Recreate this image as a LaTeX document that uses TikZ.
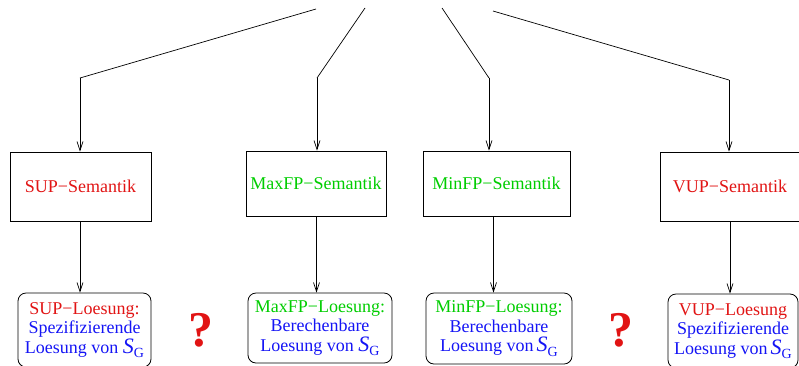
\documentclass[tikz,border=0pt]{standalone}
\usepackage{fontspec}
\setmainfont{Liberation Serif}
\usetikzlibrary{arrows.meta}
\definecolor{cred}{RGB}{225,20,20}
\definecolor{cgreen}{RGB}{0,205,0}
\definecolor{cblue}{RGB}{20,20,245}
\newcommand{\SG}{{\fontsize{22}{22}\selectfont\itshape S}\raisebox{-0.55ex}{\fontsize{14}{14}\selectfont G}}
\begin{document}
\begin{tikzpicture}[x=1pt,y=-1pt,
  semb/.style={draw,line width=0.8pt,inner sep=0pt,font=\fontsize{18}{20}\selectfont},
  solb/.style={draw,line width=0.8pt,rounded corners=8pt,inner sep=0pt,align=center,font=\fontsize{18}{19.5}\selectfont},
  arr/.style={line width=0.7pt,-{Straight Barb[length=9pt,width=6pt,line width=0.7pt]}},
  ln/.style={line width=0.7pt},
  qm/.style={text=cred,font=\fontsize{50}{50}\selectfont\bfseries,inner sep=0pt}]
\useasboundingbox (0,0) rectangle (799,365);
\clip (0,0) rectangle (799,365);
% semantics boxes
\node[semb,minimum width=141pt,minimum height=69pt,text=cred] (s1) at (80.5,186.5) {SUP−Semantik};
\node[semb,minimum width=140pt,minimum height=65pt,text=cgreen] (s2) at (316,183.5) {MaxFP−Semantik};
\node[semb,minimum width=147pt,minimum height=65pt,text=cgreen] (s3) at (496.5,183.5) {MinFP−Semantik};
\node[semb,minimum width=140pt,minimum height=69pt,text=cred] (s4) at (730,186.5) {VUP−Semantik};
% solution boxes
\node[solb,minimum width=133pt,minimum height=74pt] (l1) at (84.5,330)
  {\textcolor{cred}{SUP−Loesung:}\\\textcolor{cblue}{Spezifizierende}\\\textcolor{cblue}{Loesung von \SG}};
\node[solb,minimum width=144pt,minimum height=70pt] (l2) at (320,328)
  {\textcolor{cgreen}{MaxFP−Loesung:}\\\textcolor{cblue}{Berechenbare}\\\textcolor{cblue}{Loesung von \SG}};
\node[solb,minimum width=146pt,minimum height=71pt] (l3) at (499,328.5)
  {\textcolor{cgreen}{MinFP−Loesung:}\\\textcolor{cblue}{Berechenbare}\\\textcolor{cblue}{Loesung von\,\SG}};
\node[solb,minimum width=130pt,minimum height=74pt] (l4) at (733,331)
  {\textcolor{cred}{VUP−Loesung}\\\textcolor{cblue}{Spezifizierende}\\\textcolor{cblue}{Loesung von\,\SG}};
% question marks
\node[qm] (q1) at (201,330) {?};
\node[qm] (q2) at (621,330) {?};
% top connectors
\coordinate (t1) at (316,9);  \coordinate (b1) at (80,78);
\coordinate (t2) at (365,8);  \coordinate (b2) at (317,78);
\coordinate (t3) at (442,8);  \coordinate (b3) at (489,78);
\coordinate (t4) at (493,11); \coordinate (b4) at (729,80);
\draw[ln] (t1) -- (b1);
\draw[arr] (b1) -- (s1.north -| b1);
\draw[ln] (t2) -- (b2);
\draw[arr] (b2) -- (s2.north -| b2);
\draw[ln] (t3) -- (b3);
\draw[arr] (b3) -- (s3.north -| b3);
\draw[ln] (t4) -- (b4);
\draw[arr] (b4) -- (s4.north -| b4);
% lower connectors
\coordinate (a1) at (80,0);
\coordinate (a2) at (316.5,0);
\coordinate (a3) at (493.5,0);
\coordinate (a4) at (730,0);
\draw[arr] (s1.south -| a1) -- (l1.north -| a1);
\draw[arr] (s2.south -| a2) -- (l2.north -| a2);
\draw[arr] (s3.south -| a3) -- (l3.north -| a3);
\draw[arr] (s4.south -| a4) -- (l4.north -| a4);
\end{tikzpicture}
\end{document}
